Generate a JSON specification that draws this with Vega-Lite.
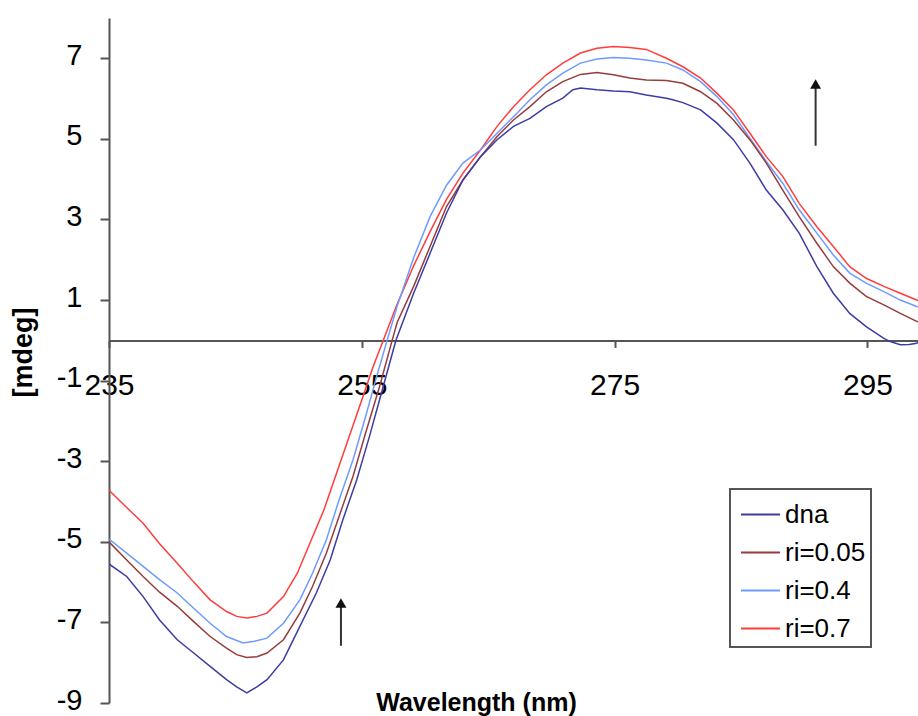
{
  "$schema": "https://vega.github.io/schema/vega-lite/v6.json",
  "width": 809,
  "height": 685,
  "autosize": {"type": "none"},
  "padding": {"left": 109, "top": 18, "right": 0, "bottom": 13},
  "background": "white",
  "config": {"view": {"stroke": null}, "font": "Liberation Sans", "axis": {"grid": false}, "legend": {"strokeWidth": 2}},
  "datasets": {
    "spectra": [
      {"series":"ri=0.7","wavelength":235.0,"mdeg":-3.72},{"series":"ri=0.7","wavelength":236.4,"mdeg":-4.15},{"series":"ri=0.7","wavelength":237.7,"mdeg":-4.54},{"series":"ri=0.7","wavelength":239.0,"mdeg":-5.05},{"series":"ri=0.7","wavelength":240.4,"mdeg":-5.53},{"series":"ri=0.7","wavelength":241.7,"mdeg":-6.0},{"series":"ri=0.7","wavelength":243.0,"mdeg":-6.44},{"series":"ri=0.7","wavelength":244.3,"mdeg":-6.73},{"series":"ri=0.7","wavelength":245.1,"mdeg":-6.85},{"series":"ri=0.7","wavelength":245.9,"mdeg":-6.89},{"series":"ri=0.7","wavelength":246.7,"mdeg":-6.85},{"series":"ri=0.7","wavelength":247.5,"mdeg":-6.77},{"series":"ri=0.7","wavelength":248.8,"mdeg":-6.36},{"series":"ri=0.7","wavelength":249.9,"mdeg":-5.78},{"series":"ri=0.7","wavelength":250.9,"mdeg":-5.03},{"series":"ri=0.7","wavelength":252.0,"mdeg":-4.21},{"series":"ri=0.7","wavelength":253.0,"mdeg":-3.3},{"series":"ri=0.7","wavelength":254.1,"mdeg":-2.3},{"series":"ri=0.7","wavelength":255.1,"mdeg":-1.39},{"series":"ri=0.7","wavelength":255.9,"mdeg":-0.65},{"series":"ri=0.7","wavelength":256.7,"mdeg":0.0},{"series":"ri=0.7","wavelength":257.8,"mdeg":0.9},{"series":"ri=0.7","wavelength":259.1,"mdeg":1.85},{"series":"ri=0.7","wavelength":260.4,"mdeg":2.7},{"series":"ri=0.7","wavelength":261.7,"mdeg":3.5},{"series":"ri=0.7","wavelength":263.0,"mdeg":4.15},{"series":"ri=0.7","wavelength":264.4,"mdeg":4.73},{"series":"ri=0.7","wavelength":265.7,"mdeg":5.31},{"series":"ri=0.7","wavelength":267.0,"mdeg":5.8},{"series":"ri=0.7","wavelength":268.3,"mdeg":6.22},{"series":"ri=0.7","wavelength":269.6,"mdeg":6.59},{"series":"ri=0.7","wavelength":270.9,"mdeg":6.88},{"series":"ri=0.7","wavelength":272.3,"mdeg":7.13},{"series":"ri=0.7","wavelength":273.6,"mdeg":7.25},{"series":"ri=0.7","wavelength":274.9,"mdeg":7.29},{"series":"ri=0.7","wavelength":276.2,"mdeg":7.27},{"series":"ri=0.7","wavelength":277.5,"mdeg":7.22},{"series":"ri=0.7","wavelength":279.1,"mdeg":7.0},{"series":"ri=0.7","wavelength":280.4,"mdeg":6.79},{"series":"ri=0.7","wavelength":281.8,"mdeg":6.51},{"series":"ri=0.7","wavelength":283.1,"mdeg":6.13},{"series":"ri=0.7","wavelength":284.4,"mdeg":5.72},{"series":"ri=0.7","wavelength":285.7,"mdeg":5.14},{"series":"ri=0.7","wavelength":287.0,"mdeg":4.56},{"series":"ri=0.7","wavelength":288.3,"mdeg":4.07},{"series":"ri=0.7","wavelength":289.6,"mdeg":3.4},{"series":"ri=0.7","wavelength":291.0,"mdeg":2.82},{"series":"ri=0.7","wavelength":292.3,"mdeg":2.33},{"series":"ri=0.7","wavelength":293.6,"mdeg":1.83},{"series":"ri=0.7","wavelength":294.9,"mdeg":1.54},{"series":"ri=0.7","wavelength":296.3,"mdeg":1.34},{"series":"ri=0.7","wavelength":297.6,"mdeg":1.17},{"series":"ri=0.7","wavelength":298.9,"mdeg":1.0},{"series":"ri=0.7","wavelength":299.0,"mdeg":0.99},

      {"series":"ri=0.4","wavelength":235.0,"mdeg":-4.93},{"series":"ri=0.4","wavelength":236.4,"mdeg":-5.28},{"series":"ri=0.4","wavelength":237.7,"mdeg":-5.61},{"series":"ri=0.4","wavelength":239.0,"mdeg":-5.94},{"series":"ri=0.4","wavelength":240.4,"mdeg":-6.27},{"series":"ri=0.4","wavelength":241.7,"mdeg":-6.65},{"series":"ri=0.4","wavelength":243.0,"mdeg":-7.02},{"series":"ri=0.4","wavelength":244.3,"mdeg":-7.35},{"series":"ri=0.4","wavelength":245.6,"mdeg":-7.51},{"series":"ri=0.4","wavelength":246.5,"mdeg":-7.47},{"series":"ri=0.4","wavelength":247.5,"mdeg":-7.39},{"series":"ri=0.4","wavelength":248.8,"mdeg":-7.02},{"series":"ri=0.4","wavelength":250.1,"mdeg":-6.44},{"series":"ri=0.4","wavelength":251.1,"mdeg":-5.78},{"series":"ri=0.4","wavelength":252.2,"mdeg":-4.95},{"series":"ri=0.4","wavelength":253.2,"mdeg":-3.96},{"series":"ri=0.4","wavelength":254.3,"mdeg":-2.97},{"series":"ri=0.4","wavelength":255.3,"mdeg":-1.89},{"series":"ri=0.4","wavelength":256.1,"mdeg":-0.98},{"series":"ri=0.4","wavelength":257.0,"mdeg":0.0},{"series":"ri=0.4","wavelength":257.8,"mdeg":0.85},{"series":"ri=0.4","wavelength":259.1,"mdeg":2.05},{"series":"ri=0.4","wavelength":260.4,"mdeg":3.07},{"series":"ri=0.4","wavelength":261.7,"mdeg":3.85},{"series":"ri=0.4","wavelength":263.0,"mdeg":4.4},{"series":"ri=0.4","wavelength":264.4,"mdeg":4.73},{"series":"ri=0.4","wavelength":265.7,"mdeg":5.14},{"series":"ri=0.4","wavelength":267.0,"mdeg":5.55},{"series":"ri=0.4","wavelength":268.3,"mdeg":5.97},{"series":"ri=0.4","wavelength":269.6,"mdeg":6.34},{"series":"ri=0.4","wavelength":270.9,"mdeg":6.63},{"series":"ri=0.4","wavelength":272.3,"mdeg":6.88},{"series":"ri=0.4","wavelength":273.6,"mdeg":6.98},{"series":"ri=0.4","wavelength":274.9,"mdeg":7.02},{"series":"ri=0.4","wavelength":276.2,"mdeg":7.0},{"series":"ri=0.4","wavelength":277.5,"mdeg":6.96},{"series":"ri=0.4","wavelength":279.1,"mdeg":6.88},{"series":"ri=0.4","wavelength":280.4,"mdeg":6.71},{"series":"ri=0.4","wavelength":281.8,"mdeg":6.42},{"series":"ri=0.4","wavelength":283.1,"mdeg":6.05},{"series":"ri=0.4","wavelength":284.4,"mdeg":5.6},{"series":"ri=0.4","wavelength":285.7,"mdeg":5.02},{"series":"ri=0.4","wavelength":287.0,"mdeg":4.44},{"series":"ri=0.4","wavelength":288.3,"mdeg":3.9},{"series":"ri=0.4","wavelength":289.6,"mdeg":3.24},{"series":"ri=0.4","wavelength":291.0,"mdeg":2.66},{"series":"ri=0.4","wavelength":292.3,"mdeg":2.12},{"series":"ri=0.4","wavelength":293.6,"mdeg":1.67},{"series":"ri=0.4","wavelength":294.9,"mdeg":1.42},{"series":"ri=0.4","wavelength":296.3,"mdeg":1.21},{"series":"ri=0.4","wavelength":297.6,"mdeg":1.0},{"series":"ri=0.4","wavelength":298.9,"mdeg":0.84},{"series":"ri=0.4","wavelength":299.0,"mdeg":0.83},

      {"series":"ri=0.05","wavelength":235.0,"mdeg":-5.0},{"series":"ri=0.05","wavelength":236.4,"mdeg":-5.45},{"series":"ri=0.05","wavelength":237.7,"mdeg":-5.86},{"series":"ri=0.05","wavelength":239.0,"mdeg":-6.25},{"series":"ri=0.05","wavelength":240.4,"mdeg":-6.6},{"series":"ri=0.05","wavelength":241.7,"mdeg":-6.98},{"series":"ri=0.05","wavelength":243.0,"mdeg":-7.35},{"series":"ri=0.05","wavelength":244.3,"mdeg":-7.64},{"series":"ri=0.05","wavelength":245.1,"mdeg":-7.8},{"series":"ri=0.05","wavelength":245.9,"mdeg":-7.87},{"series":"ri=0.05","wavelength":246.7,"mdeg":-7.85},{"series":"ri=0.05","wavelength":247.5,"mdeg":-7.76},{"series":"ri=0.05","wavelength":248.8,"mdeg":-7.43},{"series":"ri=0.05","wavelength":250.1,"mdeg":-6.77},{"series":"ri=0.05","wavelength":251.1,"mdeg":-6.11},{"series":"ri=0.05","wavelength":252.2,"mdeg":-5.28},{"series":"ri=0.05","wavelength":253.2,"mdeg":-4.37},{"series":"ri=0.05","wavelength":254.3,"mdeg":-3.38},{"series":"ri=0.05","wavelength":255.3,"mdeg":-2.3},{"series":"ri=0.05","wavelength":256.4,"mdeg":-1.15},{"series":"ri=0.05","wavelength":257.4,"mdeg":0.0},{"series":"ri=0.05","wavelength":257.8,"mdeg":0.45},{"series":"ri=0.05","wavelength":259.1,"mdeg":1.34},{"series":"ri=0.05","wavelength":260.4,"mdeg":2.33},{"series":"ri=0.05","wavelength":261.7,"mdeg":3.32},{"series":"ri=0.05","wavelength":263.0,"mdeg":3.98},{"series":"ri=0.05","wavelength":264.4,"mdeg":4.56},{"series":"ri=0.05","wavelength":265.7,"mdeg":5.06},{"series":"ri=0.05","wavelength":267.0,"mdeg":5.47},{"series":"ri=0.05","wavelength":268.3,"mdeg":5.8},{"series":"ri=0.05","wavelength":269.6,"mdeg":6.17},{"series":"ri=0.05","wavelength":270.9,"mdeg":6.42},{"series":"ri=0.05","wavelength":272.3,"mdeg":6.6},{"series":"ri=0.05","wavelength":273.6,"mdeg":6.65},{"series":"ri=0.05","wavelength":274.9,"mdeg":6.59},{"series":"ri=0.05","wavelength":276.2,"mdeg":6.51},{"series":"ri=0.05","wavelength":277.5,"mdeg":6.46},{"series":"ri=0.05","wavelength":279.1,"mdeg":6.45},{"series":"ri=0.05","wavelength":280.4,"mdeg":6.38},{"series":"ri=0.05","wavelength":281.8,"mdeg":6.17},{"series":"ri=0.05","wavelength":283.1,"mdeg":5.88},{"series":"ri=0.05","wavelength":284.4,"mdeg":5.47},{"series":"ri=0.05","wavelength":285.7,"mdeg":4.98},{"series":"ri=0.05","wavelength":287.0,"mdeg":4.4},{"series":"ri=0.05","wavelength":288.3,"mdeg":3.73},{"series":"ri=0.05","wavelength":289.6,"mdeg":3.07},{"series":"ri=0.05","wavelength":291.0,"mdeg":2.41},{"series":"ri=0.05","wavelength":292.3,"mdeg":1.83},{"series":"ri=0.05","wavelength":293.6,"mdeg":1.42},{"series":"ri=0.05","wavelength":294.9,"mdeg":1.09},{"series":"ri=0.05","wavelength":296.3,"mdeg":0.88},{"series":"ri=0.05","wavelength":297.6,"mdeg":0.67},{"series":"ri=0.05","wavelength":298.9,"mdeg":0.47},{"series":"ri=0.05","wavelength":299.0,"mdeg":0.46},

      {"series":"dna","wavelength":235.0,"mdeg":-5.55},{"series":"dna","wavelength":236.4,"mdeg":-5.86},{"series":"dna","wavelength":237.7,"mdeg":-6.36},{"series":"dna","wavelength":239.0,"mdeg":-6.94},{"series":"dna","wavelength":240.4,"mdeg":-7.43},{"series":"dna","wavelength":241.7,"mdeg":-7.76},{"series":"dna","wavelength":243.0,"mdeg":-8.09},{"series":"dna","wavelength":244.3,"mdeg":-8.42},{"series":"dna","wavelength":245.1,"mdeg":-8.6},{"series":"dna","wavelength":245.9,"mdeg":-8.75},{"series":"dna","wavelength":246.7,"mdeg":-8.6},{"series":"dna","wavelength":247.5,"mdeg":-8.42},{"series":"dna","wavelength":248.8,"mdeg":-7.93},{"series":"dna","wavelength":250.1,"mdeg":-7.1},{"series":"dna","wavelength":251.4,"mdeg":-6.27},{"series":"dna","wavelength":252.5,"mdeg":-5.45},{"series":"dna","wavelength":253.5,"mdeg":-4.45},{"series":"dna","wavelength":254.6,"mdeg":-3.46},{"series":"dna","wavelength":255.6,"mdeg":-2.39},{"series":"dna","wavelength":256.4,"mdeg":-1.48},{"series":"dna","wavelength":257.7,"mdeg":0.0},{"series":"dna","wavelength":259.1,"mdeg":1.17},{"series":"dna","wavelength":260.4,"mdeg":2.16},{"series":"dna","wavelength":261.7,"mdeg":3.16},{"series":"dna","wavelength":263.0,"mdeg":3.98},{"series":"dna","wavelength":264.4,"mdeg":4.56},{"series":"dna","wavelength":265.7,"mdeg":4.98},{"series":"dna","wavelength":267.0,"mdeg":5.31},{"series":"dna","wavelength":268.3,"mdeg":5.51},{"series":"dna","wavelength":269.6,"mdeg":5.8},{"series":"dna","wavelength":270.9,"mdeg":6.01},{"series":"dna","wavelength":271.7,"mdeg":6.22},{"series":"dna","wavelength":272.3,"mdeg":6.26},{"series":"dna","wavelength":273.6,"mdeg":6.22},{"series":"dna","wavelength":274.9,"mdeg":6.19},{"series":"dna","wavelength":276.2,"mdeg":6.17},{"series":"dna","wavelength":277.5,"mdeg":6.09},{"series":"dna","wavelength":279.1,"mdeg":6.01},{"series":"dna","wavelength":279.6,"mdeg":5.97},{"series":"dna","wavelength":280.4,"mdeg":5.9},{"series":"dna","wavelength":281.8,"mdeg":5.72},{"series":"dna","wavelength":283.1,"mdeg":5.39},{"series":"dna","wavelength":284.4,"mdeg":4.98},{"series":"dna","wavelength":285.7,"mdeg":4.4},{"series":"dna","wavelength":287.0,"mdeg":3.73},{"series":"dna","wavelength":288.3,"mdeg":3.24},{"series":"dna","wavelength":289.6,"mdeg":2.66},{"series":"dna","wavelength":291.0,"mdeg":1.83},{"series":"dna","wavelength":292.3,"mdeg":1.17},{"series":"dna","wavelength":293.6,"mdeg":0.67},{"series":"dna","wavelength":294.9,"mdeg":0.34},{"series":"dna","wavelength":296.3,"mdeg":0.05},{"series":"dna","wavelength":296.8,"mdeg":-0.03},{"series":"dna","wavelength":297.6,"mdeg":-0.11},{"series":"dna","wavelength":298.3,"mdeg":-0.1},{"series":"dna","wavelength":298.9,"mdeg":-0.07},{"series":"dna","wavelength":299.0,"mdeg":-0.05}
    ],
    "arrows": [
      {"wavelength": 253.35, "mdeg": -7.58, "mdeg_end": -6.57},
      {"wavelength": 290.9, "mdeg": 4.83, "mdeg_end": 6.27}
    ],
    "arrowheads": [
      {"wavelength": 253.35, "mdeg": -6.52},
      {"wavelength": 290.9, "mdeg": 6.36}
    ]
  },
  "layer": [
    {
      "data": {"name": "spectra"},
      "mark": {"type": "line", "strokeWidth": 1.5, "clip": true},
      "encoding": {
        "x": {
          "field": "wavelength", "type": "quantitative",
          "scale": {"domain": [235, 299], "nice": false, "zero": false},
          "axis": {
            "orient": "bottom", "offset": -362.6,
            "values": [235, 255, 275, 295],
            "title": "Wavelength (nm)",
            "titleFont": "Liberation Sans", "titleFontSize": 25, "titleFontWeight": "bold", "titleColor": "#000",
            "titleX": 367, "titleY": 362.5, "titleAlign": "center", "titleBaseline": "middle",
            "labelFont": "Liberation Sans", "labelFontSize": 30, "labelColor": "#000",
            "labelBaseline": "middle", "labelPadding": 38, "labelFlush": false, "labelOverlap": false, "labelBound": false,
            "tickSize": 7, "tickColor": "#555", "tickWidth": 2,
            "domainColor": "#555", "domainWidth": 2, "grid": false
          }
        },
        "y": {
          "field": "mdeg", "type": "quantitative",
          "scale": {"domain": [-9, 8], "nice": false, "zero": false},
          "axis": {
            "values": [-9, -7, -5, -3, -1, 1, 3, 5, 7],
            "labelExpr": "'' + datum.value",
            "title": "[mdeg]",
            "titleFont": "Liberation Sans", "titleFontSize": 27, "titleFontWeight": "bold", "titleColor": "#000",
            "titleX": -86, "titleY": 334, "titleAngle": 270, "titleAlign": "center", "titleBaseline": "middle",
            "labelFont": "Liberation Sans", "labelFontSize": 29, "labelColor": "#000",
            "labelPadding": 18, "labelOffset": -3, "labelOverlap": false, "labelBound": false, "labelFlush": false,
            "tickSize": 9, "tickColor": "#555", "tickWidth": 2,
            "domainColor": "#555", "domainWidth": 2, "grid": false
          }
        },
        "color": {
          "field": "series", "type": "nominal",
          "scale": {"domain": ["dna", "ri=0.05", "ri=0.4", "ri=0.7"], "range": ["#3c3ca3", "#963c3c", "#6e9bff", "#ff3c3c"]},
          "legend": {
            "orient": "none", "legendX": 621, "legendY": 471, "title": null,
            "symbolType": "stroke", "symbolSize": 1521, "symbolStrokeWidth": 2, "symbolOffset": 5,
            "labelFont": "Liberation Sans", "labelFontSize": 26, "labelColor": "#000", "labelOffset": 4,
            "padding": 5, "rowPadding": 4,
            "strokeColor": "#555", "fillColor": "white", "cornerRadius": 0
          }
        }
      }
    },
    {
      "data": {"name": "arrows"},
      "mark": {"type": "rule", "color": "#333", "strokeWidth": 2},
      "encoding": {
        "x": {"field": "wavelength", "type": "quantitative"},
        "y": {"field": "mdeg", "type": "quantitative"},
        "y2": {"field": "mdeg_end"}
      }
    },
    {
      "data": {"name": "arrowheads"},
      "mark": {"type": "point", "shape": "triangle-up", "filled": true, "color": "#111", "size": 120, "opacity": 1},
      "encoding": {
        "x": {"field": "wavelength", "type": "quantitative"},
        "y": {"field": "mdeg", "type": "quantitative"}
      }
    }
  ]
}
